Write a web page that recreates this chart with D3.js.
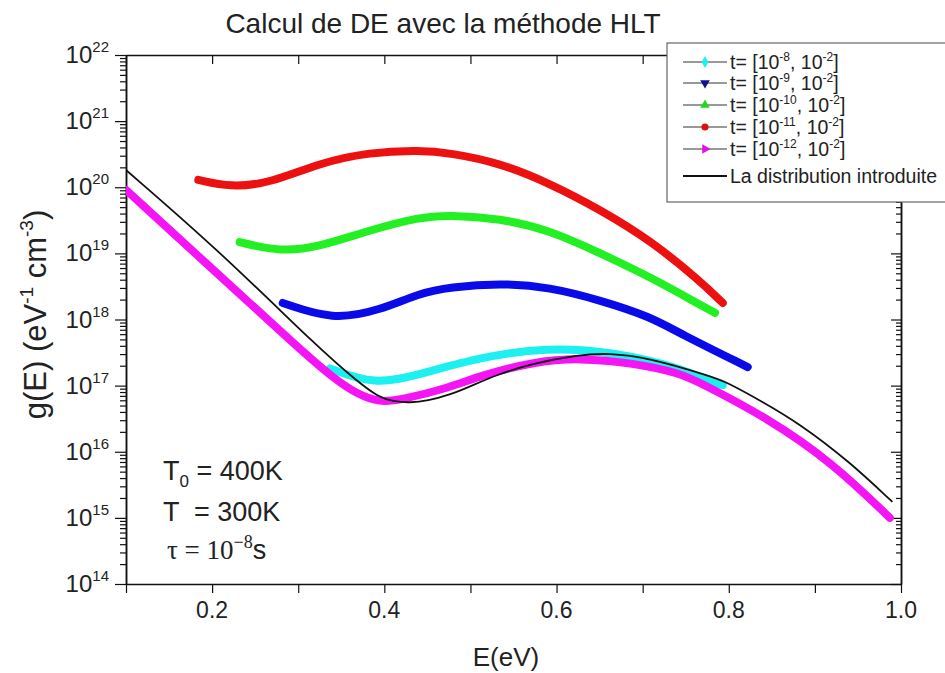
<!DOCTYPE html>
<html>
<head>
<meta charset="utf-8">
<script src="https://cdn.jsdelivr.net/npm/d3@7"></script>
<style>
  body { margin: 0; background: #fff; }
  text { font-family: Arial, "Liberation Sans", sans-serif; fill: #222; }
</style>
</head>
<body>
<div class="canvas"></div>
<script>
// ---- data ----
const xTickValues = [0.1, 0.2, 0.3, 0.4, 0.5, 0.6, 0.7, 0.8, 0.9, 1.0];
const xTickLabels = [0.2, 0.4, 0.6, 0.8, 1.0];
const yDecades = [14, 15, 16, 17, 18, 19, 20, 21, 22];

const energyCyan = [0.337, 0.389, 0.441, 0.511, 0.589, 0.666, 0.743, 0.782, 0.793];
const gCyan = [1.82e17, 1.02e17, 1.48e17, 2.69e17, 3.80e17, 3.24e17, 1.86e17, 1.10e17, 1.02e17];

const energyBlue = [0.282, 0.340, 0.395, 0.441, 0.476, 0.534, 0.592, 0.651, 0.709, 0.743, 0.822];
const gBlue = [1.78e18, 9.77e17, 1.38e18, 2.51e18, 3.09e18, 3.55e18, 3.09e18, 1.95e18, 1.10e18, 6.17e17, 1.91e17];

const energyGreen = [0.232, 0.279, 0.325, 0.383, 0.441, 0.476, 0.534, 0.592, 0.651, 0.709, 0.767, 0.784];
const gGreen = [1.48e19, 1.05e19, 1.26e19, 2.24e19, 3.55e19, 3.80e19, 3.39e19, 2.24e19, 1.00e19, 4.37e18, 1.66e18, 1.26e18];

const energyRed = [0.184, 0.221, 0.267, 0.325, 0.383, 0.441, 0.476, 0.534, 0.592, 0.651, 0.709, 0.767, 0.793];
const gRed = [1.29e20, 1.00e20, 1.15e20, 2.34e20, 3.39e20, 3.63e20, 3.31e20, 2.34e20, 1.15e20, 4.57e19, 1.58e19, 3.80e18, 1.78e18];

const energyMagenta = [0.1, 0.209, 0.302, 0.340, 0.370, 0.395, 0.418, 0.476, 0.511, 0.573, 0.627, 0.689, 0.743, 0.767, 0.844, 0.921, 0.987];
const gMagenta = [9.12e19, 4.57e18, 3.55e17, 1.32e17, 7.24e16, 5.62e16, 6.03e16, 9.33e16, 1.41e17, 2.29e17, 2.63e17, 2.19e17, 1.55e17, 1.10e17, 3.31e16, 6.76e15, 1.00e15];

const energyIntro = [0.1, 0.209, 0.325, 0.370, 0.393, 0.410, 0.430, 0.450, 0.476, 0.500, 0.530, 0.570, 0.627, 0.660, 0.705, 0.782, 0.798, 0.836, 0.883, 0.941, 0.990];
const gIntro = [1.82e20, 1.07e19, 3.55e17, 1.12e17, 6.76e16, 5.75e16, 5.50e16, 5.89e16, 7.24e16, 9.77e16, 1.45e17, 2.14e17, 2.95e17, 3.09e17, 2.69e17, 1.35e17, 1.12e17, 6.03e16, 2.63e16, 6.92e15, 1.74e15];

const legendLabels = [
  ['-8', '-2'], ['-9', '-2'], ['-10', '-2'], ['-11', '-2'], ['-12', '-2']
];

// ---- layout ----
const W = 945, H = 673;
const plotLeft = 126, plotRight = 901, plotTop = 55, plotBottom = 584;

const svg = d3.select('.canvas').append('svg')
  .attr('width', W).attr('height', H);

const x = d3.scaleLinear().domain([0.1, 1.0]).range([plotLeft, plotRight]);
const y = d3.scaleLog().domain([1e14, 1e22]).range([plotBottom, plotTop]);

const minorY = [];
yDecades.slice(0, -1).forEach(p => {
  for (let k = 2; k <= 9; k++) minorY.push(k * Math.pow(10, p));
});
const majorY = yDecades.map(p => Math.pow(10, p));

const axisStyle = g => {
  g.select('.domain').attr('stroke', '#111').attr('stroke-width', 1.5);
  g.selectAll('.tick line').attr('stroke', '#111').attr('stroke-width', 1.2);
  g.selectAll('.tick text').remove();
};

// left axis (outward ticks)
svg.append('g').attr('transform', `translate(${plotLeft},0)`)
  .call(d3.axisLeft(y).tickValues(majorY).tickSize(11).tickSizeOuter(0)).call(axisStyle);
svg.append('g').attr('transform', `translate(${plotLeft},0)`)
  .call(d3.axisLeft(y).tickValues(minorY).tickSize(6).tickSizeOuter(0)).call(axisStyle);

// right axis (inward ticks)
svg.append('g').attr('transform', `translate(${plotRight},0)`)
  .call(d3.axisLeft(y).tickValues(majorY).tickSize(10).tickSizeOuter(0)).call(axisStyle);
svg.append('g').attr('transform', `translate(${plotRight},0)`)
  .call(d3.axisLeft(y).tickValues(minorY).tickSize(5).tickSizeOuter(0)).call(axisStyle);

// bottom axis (outward ticks)
svg.append('g').attr('transform', `translate(0,${plotBottom})`)
  .call(d3.axisBottom(x).tickValues(xTickValues).tickSize(9).tickSizeOuter(0)).call(axisStyle);

// top axis (inward ticks)
svg.append('g').attr('transform', `translate(0,${plotTop})`)
  .call(d3.axisBottom(x).tickValues(xTickValues).tickSize(9).tickSizeOuter(0)).call(axisStyle);

// y tick labels with superscripts
majorY.forEach((v, i) => {
  const t = svg.append('text')
    .attr('x', plotLeft - 17).attr('y', y(v) + 8)
    .attr('text-anchor', 'end').attr('font-size', 24);
  t.append('tspan').text('10');
  t.append('tspan').attr('dy', -11).attr('font-size', 15).text(yDecades[i]);
});

// x tick labels
svg.selectAll('.xlab').data(xTickLabels).join('text')
  .attr('class', 'xlab')
  .attr('x', d => x(d)).attr('y', plotBottom + 34)
  .attr('text-anchor', 'middle').attr('font-size', 23)
  .text(d => d.toFixed(1));

// axis titles
svg.append('text').attr('x', 506).attr('y', 666)
  .attr('text-anchor', 'middle').attr('font-size', 26).text('E(eV)');

const yl = svg.append('text')
  .attr('transform', `translate(46,${(plotTop + plotBottom) / 2 - 5}) rotate(-90)`)
  .attr('text-anchor', 'middle').attr('font-size', 31);
yl.append('tspan').text('g(E) (eV');
yl.append('tspan').attr('dy', -13).attr('font-size', 19).text('-1');
yl.append('tspan').attr('dy', 13).text(' cm');
yl.append('tspan').attr('dy', -13).attr('font-size', 19).text('-3');
yl.append('tspan').attr('dy', 13).text(')');

// title
svg.append('text').attr('x', 443).attr('y', 33)
  .attr('text-anchor', 'middle').attr('font-size', 28)
  .text('Calcul de DE avec la méthode HLT');

// ---- curves ----
svg.append('clipPath').attr('id', 'plotClip')
  .append('rect').attr('x', plotLeft).attr('y', plotTop)
  .attr('width', plotRight - plotLeft).attr('height', plotBottom - plotTop);

const line = d3.line()
  .x(d => x(d[0])).y(d => y(d[1]))
  .curve(d3.curveBasis);

const series = [
  { id: 'cyan', e: energyCyan, g: gCyan, color: '#1cf0f0', w: 8 },
  { id: 'blue', e: energyBlue, g: gBlue, color: '#0a0ae8', w: 8 },
  { id: 'green', e: energyGreen, g: gGreen, color: '#22f022', w: 8 },
  { id: 'red', e: energyRed, g: gRed, color: '#ec1010', w: 8 },
  { id: 'magenta', e: energyMagenta, g: gMagenta, color: '#f414f4', w: 8 },
  { id: 'intro', e: energyIntro, g: gIntro, color: '#111', w: 1.8 }
];

const curves = svg.append('g').attr('clip-path', 'url(#plotClip)');
curves.selectAll('path').data(series).join('path')
  .attr('id', d => d.id)
  .attr('d', d => line(d.e.map((v, i) => [v, d.g[i]])))
  .attr('fill', 'none')
  .attr('stroke', d => d.color)
  .attr('stroke-width', d => d.w)
  .attr('stroke-linecap', d => (d.id === 'intro' ? 'butt' : 'round'));

// ---- annotations ----
const ann = svg.append('g').attr('font-size', 27);
const a1 = ann.append('text').attr('x', 163).attr('y', 480);
a1.append('tspan').text('T');
a1.append('tspan').attr('dy', 7).attr('font-size', 17).text('0');
a1.append('tspan').attr('dy', -7).text(' = 400K');
ann.append('text').attr('x', 163).attr('y', 521).attr('xml:space', 'preserve').text('T  = 300K');
const a3 = ann.append('text').attr('x', 167).attr('y', 559);
a3.append('tspan').attr('font-family', '"Liberation Serif", "Times New Roman", serif').text('τ  = 10');
a3.append('tspan').attr('dy', -11).attr('font-size', 18)
  .attr('font-family', '"Liberation Serif", "Times New Roman", serif').text('−8');
a3.append('tspan').attr('dy', 11).text('s');

// ---- legend ----
const legend = svg.append('g');
legend.append('rect')
  .attr('x', 667).attr('y', 43).attr('width', 300).attr('height', 159)
  .attr('fill', '#fff').attr('stroke', '#666').attr('stroke-width', 1.2);

const markers = [
  { type: d3.symbolDiamond, rot: 0, color: '#1cf0f0' },
  { type: d3.symbolTriangle, rot: 180, color: '#101090' },
  { type: d3.symbolTriangle, rot: 0, color: '#22d822' },
  { type: d3.symbolCircle, rot: 0, color: '#e01010' },
  { type: d3.symbolTriangle, rot: 90, color: '#e010e0' }
];
const rowY = [62, 83, 105, 127, 149, 176];

legendLabels.forEach((lab, i) => {
  const ry = rowY[i];
  legend.append('line').attr('x1', 683).attr('x2', 727)
    .attr('y1', ry).attr('y2', ry).attr('stroke', '#333').attr('stroke-width', 1);
  legend.append('path')
    .attr('d', d3.symbol().type(markers[i].type).size(40)())
    .attr('transform', `translate(705,${ry}) rotate(${markers[i].rot})`)
    .attr('fill', markers[i].color);
  const t = legend.append('text').attr('x', 730).attr('y', ry + 7).attr('font-size', 19.5);
  t.append('tspan').text('t= [10');
  t.append('tspan').attr('dy', -8).attr('font-size', 12).text(lab[0]);
  t.append('tspan').attr('dy', 8).text(', 10');
  t.append('tspan').attr('dy', -8).attr('font-size', 12).text(lab[1]);
  t.append('tspan').attr('dy', 8).text(']');
});
legend.append('line').attr('x1', 683).attr('x2', 727)
  .attr('y1', rowY[5]).attr('y2', rowY[5]).attr('stroke', '#111').attr('stroke-width', 2);
legend.append('text').attr('x', 730).attr('y', rowY[5] + 7).attr('font-size', 19.5)
  .text('La distribution introduite');
</script>
</body>
</html>
